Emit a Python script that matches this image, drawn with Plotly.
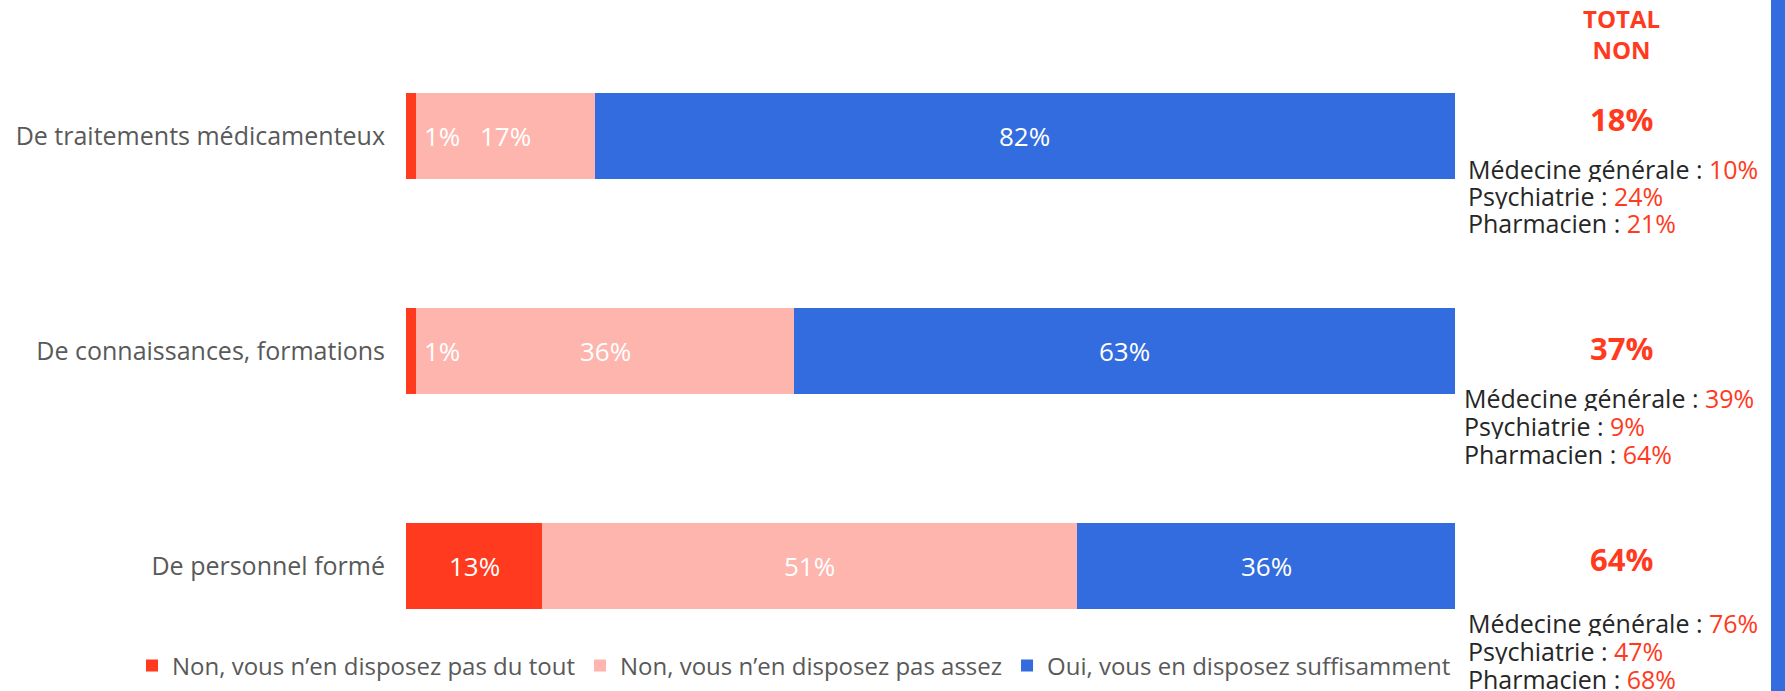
import plotly.graph_objects as go

# Survey items (rows, top to bottom)
categories = [
    "De traitements médicamenteux",
    "De connaissances, formations",
    "De personnel formé",
]

# Answer shares (%) per row
series_names = [
    "Non, vous n’en disposez pas du tout",
    "Non, vous n’en disposez pas assez",
    "Oui, vous en disposez suffisamment",
]
non_pas_du_tout = [1, 1, 13]
non_pas_assez = [17, 36, 51]
oui_suffisamment = [82, 63, 36]

# "Total non" breakdown by respondent group
groups = ["Médecine générale", "Psychiatrie", "Pharmacien"]
group_values = [
    [10, 24, 21],
    [39, 9, 64],
    [76, 47, 68],
]

RED = "#FF3A1E"
PINK = "#FDB5AD"
BLUE = "#336CDE"
GREY = "#595959"
DARK = "#262626"
FONT = "Open Sans"

W, H = 1785, 691
PLOT_L, PLOT_R = 406, 1455
PLOT_T, PLOT_B = 0, 645

# Row centres sit 215 px apart starting 136 px from the top
ROW0, ROW_STEP = 136, 215
y_range = [(PLOT_B - ROW0) / ROW_STEP, (PLOT_T - ROW0) / ROW_STEP]

series = [non_pas_du_tout, non_pas_assez, oui_suffisamment]
colors = [RED, PINK, BLUE]

fig = go.Figure()
for name, vals, col in zip(series_names, series, colors):
    fig.add_trace(go.Bar(
        y=categories, x=vals, name=name, orientation="h",
        marker=dict(color=col, line=dict(width=0)),
        width=0.4, hoverinfo="x+name",
    ))

# Value labels inside the stacked segments
annotations = []
for i, cat in enumerate(categories):
    start = 0
    for vals in series:
        v = vals[i]
        if v < 5:
            ax, anchor = start + v + 0.5, "left"
        else:
            ax, anchor = start + v / 2, "center"
        annotations.append(dict(
            x=ax, y=cat, xref="x", yref="y", text=f"{v}%", showarrow=False,
            xanchor=anchor, yanchor="middle",
            font=dict(family=FONT, size=26, color="white"),
        ))
        start += v


def py(pixel_y):
    return (PLOT_B - pixel_y) / (PLOT_B - PLOT_T)


def px(pixel_x):
    return (pixel_x - PLOT_L) / (PLOT_R - PLOT_L)


# Right-hand summary column
annotations.append(dict(
    x=px(1621), y=py(34), xref="paper", yref="paper", showarrow=False,
    xanchor="center", yanchor="middle",
    text="<b>TOTAL<br>NON</b>", align="center",
    font=dict(family=FONT, size=24, color=RED),
))
total_y = [119, 348, 559]
line_y = [[169, 196, 223], [398, 426, 454], [623, 651, 679]]
line_x = [1466, 1462, 1466]
for i in range(len(categories)):
    total_non = non_pas_du_tout[i] + non_pas_assez[i]
    annotations.append(dict(
        x=px(1621), y=py(total_y[i]), xref="paper", yref="paper",
        xanchor="center", yanchor="middle",
        showarrow=False, text=f"<b>{total_non}%</b>",
        font=dict(family=FONT, size=31, color=RED),
    ))
    for g, gv, ly in zip(groups, group_values[i], line_y[i]):
        annotations.append(dict(
            x=px(line_x[i]), y=py(ly), xref="paper", yref="paper",
            xanchor="left", yanchor="middle", showarrow=False, height=26,
            text=f"{g} : <span style='color:{RED}'>{gv}%</span>",
            font=dict(family=FONT, size=25, color=DARK),
        ))

fig.update_layout(
    width=W, height=H,
    margin=dict(l=PLOT_L, r=W - PLOT_R, t=PLOT_T, b=H - PLOT_B, pad=0),
    barmode="stack",
    plot_bgcolor="white", paper_bgcolor="white",
    font=dict(family=FONT, color=GREY),
    showlegend=True,
    legend=dict(
        orientation="h", traceorder="normal",
        x=px(132), y=py(666), xanchor="left", yanchor="middle",
        font=dict(family=FONT, size=24, color=GREY),
        itemwidth=30, tracegroupgap=0, bgcolor="rgba(0,0,0,0)",
    ),
    xaxis=dict(range=[0, 100], visible=False, fixedrange=True),
    yaxis=dict(
        range=y_range, showgrid=False, zeroline=False, showline=False,
        ticks="", ticklabelstandoff=20,
        tickfont=dict(family=FONT, size=25, color=GREY),
    ),
    annotations=annotations,
    shapes=[dict(
        type="rect", xref="paper", yref="paper",
        x0=px(1771), x1=px(1785), y0=py(H), y1=py(0),
        fillcolor=BLUE, line=dict(width=0), layer="above",
    )],
)

fig.write_html("out.html")
